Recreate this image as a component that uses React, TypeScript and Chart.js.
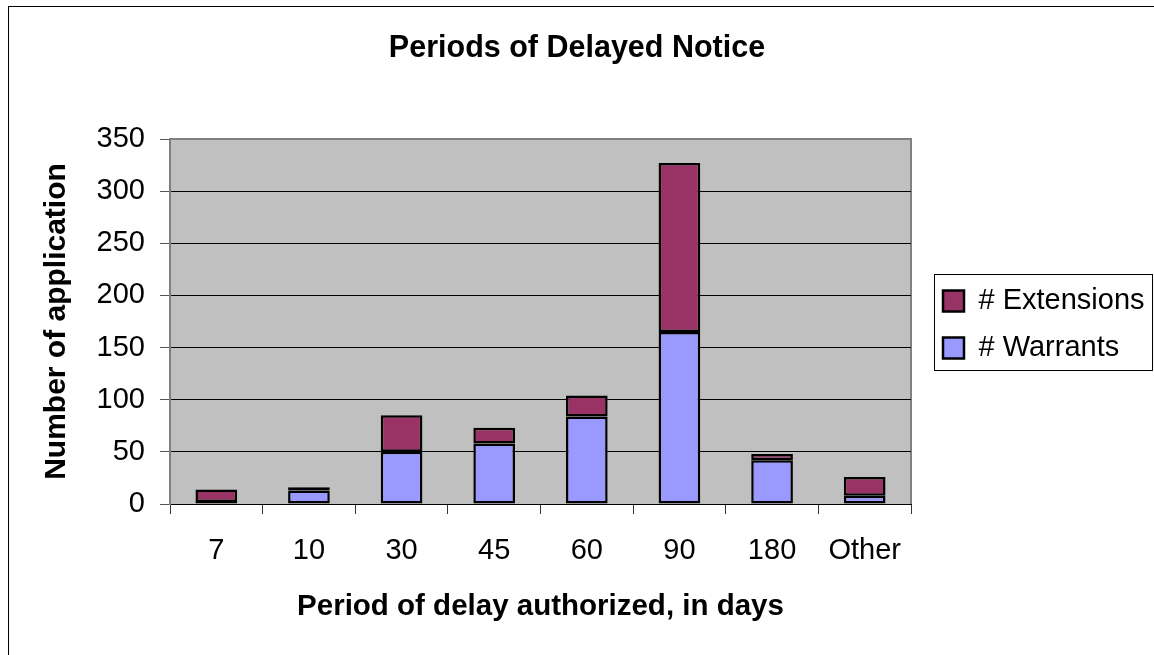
import React, { useEffect, useRef } from "react";
import { Chart, registerables } from "chart.js";

Chart.register(...registerables);

const categories = ["7", "10", "30", "45", "60", "90", "180", "Other"];
const warrants = [2, 13, 50, 58, 84, 165, 42, 8];
const extensions = [12, 3, 35, 15, 20, 162, 6, 18];
const yTicks = [0, 50, 100, 150, 200, 250, 300, 350];

const FONT = "'Liberation Sans', Arial, sans-serif";

const framePlugin = {
  id: "frame",
  beforeLayout(chart: any) {
    const lg = chart.legend;
    if (lg && !lg.__patched) {
      const orig = lg.fit.bind(lg);
      lg.fit = function () {
        orig();
        this.width = 243;
      };
      lg.__patched = true;
    }
  },
  afterLayout(chart: any) {
    const lg = chart.legend;
    if (lg) {
      lg.left = 925;
      lg.top = 268.5;
    }
  },
  beforeDraw(chart: any) {
    const { ctx, chartArea } = chart;
    ctx.save();
    ctx.fillStyle = "#ffffff";
    ctx.fillRect(0, 0, chart.width, chart.height);
    ctx.strokeStyle = "#000000";
    ctx.lineWidth = 1;
    ctx.strokeRect(8.5, 6.5, chart.width + 20, chart.height + 20);
    ctx.fillStyle = "#C0C0C0";
    ctx.fillRect(chartArea.left, chartArea.top, chartArea.right - chartArea.left, chartArea.bottom - chartArea.top);
    ctx.strokeStyle = "#808080";
    ctx.lineWidth = 2;
    ctx.beginPath();
    ctx.moveTo(chartArea.left, chartArea.top);
    ctx.lineTo(chartArea.right, chartArea.top);
    ctx.lineTo(chartArea.right, chartArea.bottom);
    ctx.stroke();
    ctx.restore();
  },
  afterDraw(chart: any) {
    const { ctx } = chart;
    ctx.save();
    ctx.strokeStyle = "#000000";
    ctx.lineWidth = 1;
    ctx.strokeRect(934.5, 274.5, 218, 96);
    ctx.restore();
  },
};

export default function App() {
  const ref = useRef<HTMLCanvasElement | null>(null);
  useEffect(() => {
    if (!ref.current) return;
    const chart = new Chart(ref.current, {
      type: "bar",
      data: {
        labels: categories,
        datasets: [
          {
            label: "# Warrants",
            data: warrants,
            backgroundColor: "#9999FF",
            borderColor: "#000000",
            borderWidth: 2.5,
            borderSkipped: false,
            barPercentage: 0.45,
            categoryPercentage: 1,
          },
          {
            label: "# Extensions",
            data: extensions,
            backgroundColor: "#993366",
            borderColor: "#000000",
            borderWidth: 2.5,
            borderSkipped: false,
            barPercentage: 0.45,
            categoryPercentage: 1,
          },
        ],
      },
      options: {
        responsive: false,
        animation: false,
        devicePixelRatio: 1,
        layout: { padding: 0 },
        plugins: {
          title: {
            display: true,
            text: "Periods of Delayed Notice",
            color: "#000",
            font: { family: FONT, size: 30.5, weight: "bold", lineHeight: 1.2 },
            padding: { top: 30, bottom: 72.4 },
          },
          legend: {
            position: "right",
            align: "start",
            reverse: true,
            labels: {
              color: "#000",
              font: { family: FONT, size: 29 },
              boxWidth: 21,
              boxHeight: 21,
              padding: 18,
            },
          },
          tooltip: { enabled: false },
        },
        scales: {
          x: {
            stacked: true,
            afterFit(scale: any) {
              scale.height = 151;
            },
            grid: {
              offset: true,
              drawOnChartArea: false,
              drawTicks: true,
              tickLength: 10,
              tickColor: "#333",
              tickWidth: 1,
            },
            border: { color: "#000", width: 1 },
            ticks: {
              color: "#000",
              padding: 20,
              font: { family: FONT, size: 29 },
              maxRotation: 0,
            },
            title: {
              display: true,
              text: "Period of delay authorized, in days",
              color: "#000",
              font: { family: FONT, size: 29.5, weight: "bold", lineHeight: 1.2 },
              padding: { top: 0, bottom: 30 },
            },
          },
          y: {
            stacked: true,
            min: 0,
            max: 350,
            afterFit(scale: any) {
              scale.width = 170;
            },
            afterBuildTicks(scale: any) {
              scale.ticks = yTicks.map((v) => ({ value: v }));
            },
            grid: {
              color: (c: any) => (c.tick && c.tick.value === 350 ? "rgba(0,0,0,0)" : "#000"),
              lineWidth: 1,
              tickLength: 10,
              tickColor: "#555",
              drawTicks: true,
            },
            border: { color: "#808080", width: 2 },
            ticks: {
              color: "#000",
              padding: 15,
              font: { family: FONT, size: 29 },
            },
            title: {
              display: true,
              text: "Number of application",
              color: "#000",
              font: { family: FONT, size: 30, weight: "bold", lineHeight: 1.2 },
              padding: { top: 39, bottom: 0 },
            },
          },
        },
      },
      plugins: [framePlugin],
    });
    return () => chart.destroy();
  }, []);
  return (
    <div style={{ position: "absolute", left: 0, top: 0, width: 1154, height: 655 }}>
      <canvas ref={ref} width={1154} height={655} style={{ display: "block" }} />
    </div>
  );
}
